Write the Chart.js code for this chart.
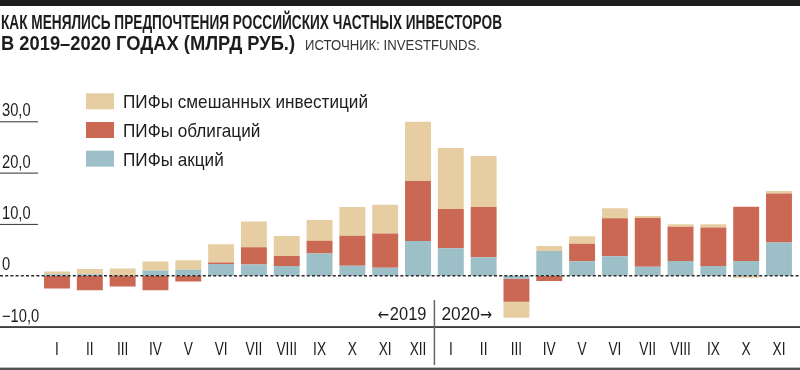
<!DOCTYPE html>
<html>
<head>
<meta charset="utf-8">
<script src="https://cdn.jsdelivr.net/npm/chart.js@4.4.1/dist/chart.umd.min.js"></script>
<style>
html,body{margin:0;padding:0;background:#fff;}
#wrap{position:relative;width:800px;height:370px;overflow:hidden;background:#fff;}
#topbar{position:absolute;left:0;top:0;width:800px;height:6px;background:#1d1d1b;}
.t{position:absolute;white-space:nowrap;transform-origin:0 0;font-family:'Liberation Sans',Arial,sans-serif;color:#1d1d1b;}
#t1{left:1px;top:12.4px;font-size:20px;line-height:20px;font-weight:bold;}
#t2{left:1px;top:33.1px;font-size:20px;line-height:20px;font-weight:bold;}
#src{left:305px;top:36.6px;font-size:15.5px;line-height:16px;font-weight:normal;color:#333;}
canvas{position:absolute;left:0;top:0;}
</style>
</head>
<body>
<div id="wrap">
  <canvas id="c" width="800" height="370"></canvas>
  <div id="topbar"></div>
  <div class="t" id="t1" data-w="501">КАК МЕНЯЛИСЬ ПРЕДПОЧТЕНИЯ РОССИЙСКИХ ЧАСТНЫХ ИНВЕСТОРОВ</div>
  <div class="t" id="t2" data-w="294">В 2019–2020 ГОДАХ (МЛРД РУБ.)</div>
  <div class="t" id="src" data-w="175">ИСТОЧНИК: INVESTFUNDS.</div>
</div>
<script>
// ---- data ----
const months2019 = ['I','II','III','IV','V','VI','VII','VIII','IX','X','XI','XII'];
const months2020 = ['I','II','III','IV','V','VI','VII','VIII','IX','X','XI'];
const categories = months2019.concat(months2020);
const seriesLabels = ['ПИФы акций', 'ПИФы облигаций', 'ПИФы смешанных инвестиций'];
const stockFunds = [0.3, 0.3, 0.1, 1.0, 1.15, 2.3, 2.2, 1.9, 4.35, 1.95, 1.55, 6.75,
                    5.35, 3.6, -0.6, 4.8, 2.8, 3.8, 1.75, 2.85, 1.9, 2.85, 6.45];
const bondFunds  = [-2.5, -2.85, -2.1, -2.85, -1.15, 0.25, 3.35, 1.95, 2.45, 5.85, 6.7, 11.7,
                    7.65, 9.8, -4.5, -1.05, 3.45, 7.4, 9.5, 6.7, 7.5, 10.6, 9.55];
const mixedFunds = [0.5, 1.0, 1.3, 1.75, 1.85, 3.6, 5.0, 3.9, 4.05, 5.6, 5.6, 11.55,
                    11.9, 9.95, -3.1, 1.0, 1.45, 1.95, 0.4, 0.5, 0.65, -0.4, 0.5];
const yTickValues = [-10, 0, 10, 20, 30];
const yTickLabels = ['−10,0', '0', '10,0', '20,0', '30,0'];
const yearLabels = ['←2019', '2020→'];
const colors = ['#9DBFC8', '#CB6854', '#E7CEA2'];

const FONT = "'Liberation Sans',Arial,sans-serif";
const ARROW_FONT = "'DejaVu Sans',sans-serif";

function drawScaled(ctx, text, x, y, s, align) {
  ctx.save();
  ctx.translate(x, y);
  ctx.scale(s, 1);
  ctx.textAlign = align || 'left';
  ctx.fillText(text, 0, 0);
  ctx.restore();
}
function fitText(ctx, text, x, y, targetW, align) {
  drawScaled(ctx, text, x, y, targetW / ctx.measureText(text).width, align);
}
// draws a year label whose arrow glyph uses a font with a full-size arrow
function drawYearLabel(ctx, text, x, y, targetW, alignRight) {
  const isArrow = ch => ch === '←' || ch === '→';
  const parts = [];
  let cur = '';
  for (const ch of text) {
    if (isArrow(ch)) { if (cur) parts.push({ t: cur, a: false }); cur = ''; parts.push({ t: ch, a: true }); }
    else cur += ch;
  }
  if (cur) parts.push({ t: cur, a: false });
  const fontFor = p => p.a ? '16px ' + ARROW_FONT : '19px ' + FONT;
  let total = 0;
  parts.forEach(p => { ctx.font = fontFor(p); p.w = ctx.measureText(p.t).width + (p.a ? 1 : 0); total += p.w; });
  const s = targetW / total;
  let px = alignRight ? x - targetW : x;
  parts.forEach(p => {
    ctx.font = fontFor(p);
    drawScaled(ctx, p.t, px, y - (p.a ? 0.5 : 0), s, 'left');
    px += p.w * s;
  });
}

const deco = {
  id: 'deco',
  beforeDatasetsDraw(chart) {
    const ctx = chart.ctx;
    const ys = chart.scales.y, xs = chart.scales.x;
    ctx.save();
    ctx.textBaseline = 'alphabetic';
    // y labels + short underlines
    ctx.font = '17.5px ' + FONT;
    yTickValues.forEach((v, i) => {
      const py = ys.getPixelForValue(v);
      ctx.fillStyle = '#1d1d1b';
      drawScaled(ctx, yTickLabels[i], 2, py - 5.5, 0.84, 'left');
      if (v > 0) {
        ctx.fillStyle = '#333';
        ctx.fillRect(0, py - 0.5, 38, 1);
      }
    });
    // x category labels, positioned by the x scale
    ctx.font = '18.5px ' + FONT;
    ctx.fillStyle = '#1d1d1b';
    chart.data.labels.forEach((lab, i) => {
      drawScaled(ctx, lab, xs.getPixelForValue(i), 354.5, 0.74, 'center');
    });
    // bottom axis line at -10
    const pMin = ys.getPixelForValue(-10);
    ctx.fillStyle = '#2b2b2b';
    ctx.fillRect(0, pMin - 0.8, 800, 1.7);
    // bottom frame line
    ctx.fillStyle = '#555';
    ctx.fillRect(0, 367.6, 800, 2.4);
    // year separator
    const sep = (xs.getPixelForValue(11) + xs.getPixelForValue(12)) / 2;
    ctx.fillStyle = '#666';
    ctx.fillRect(sep - 0.75, 300, 1.5, 65);
    ctx.fillStyle = '#1d1d1b';
    drawYearLabel(ctx, yearLabels[0], sep - 8, 320, 49, true);
    drawYearLabel(ctx, yearLabels[1], sep + 7, 320, 51.6, false);
    // legend
    ctx.font = '19px ' + FONT;
    const s = 245 / ctx.measureText(seriesLabels[2]).width;
    const order = [2, 1, 0];
    order.forEach((di, r) => {
      const cy = 101.3 + r * 28.7;
      ctx.fillStyle = chart.data.datasets[di].backgroundColor;
      ctx.fillRect(86, cy - 8, 28, 16);
      ctx.fillStyle = '#1d1d1b';
      drawScaled(ctx, chart.data.datasets[di].label, 123, cy + 6.8, s, 'left');
    });
    ctx.restore();
  },
  afterDatasetsDraw(chart) {
    const ctx = chart.ctx;
    const y0 = chart.scales.y.getPixelForValue(0);
    ctx.save();
    ctx.strokeStyle = '#2b2b2b';
    ctx.lineWidth = 1.5;
    ctx.setLineDash([3, 2.2]);
    ctx.beginPath();
    ctx.moveTo(0, y0);
    ctx.lineTo(800, y0);
    ctx.stroke();
    ctx.restore();
  }
};

function build() {
  new Chart(document.getElementById('c'), {
    type: 'bar',
    data: {
      labels: categories,
      datasets: [
        { label: seriesLabels[0], data: stockFunds, backgroundColor: colors[0] },
        { label: seriesLabels[1], data: bondFunds, backgroundColor: colors[1] },
        { label: seriesLabels[2], data: mixedFunds, backgroundColor: colors[2] }
      ]
    },
    options: {
      responsive: false,
      animation: false,
      devicePixelRatio: 1,
      layout: { padding: { top: 70.5, right: 4.6, left: 0, bottom: 0 } },
      datasets: { bar: { barPercentage: 0.79, categoryPercentage: 1, borderWidth: 0 } },
      plugins: { legend: { display: false }, tooltip: { enabled: false }, title: { display: false } },
      scales: {
        x: {
          stacked: true,
          grid: { display: false, drawTicks: false },
          border: { display: false },
          ticks: { display: false, autoSkip: false },
          afterFit: (sc) => { sc.height = 43; }
        },
        y: {
          stacked: true,
          min: -10, max: 40,
          grid: { display: false, drawTicks: false },
          border: { display: false },
          ticks: { display: false },
          afterFit: (sc) => { sc.width = 40.6; }
        }
      }
    },
    plugins: [deco]
  });
}
build();

function fitTitles() {
  document.querySelectorAll('.t').forEach(el => {
    el.style.transform = 'none';
    const w = el.getBoundingClientRect().width;
    const tw = parseFloat(el.dataset.w);
    el.style.transform = 'scaleX(' + (tw / w) + ')';
  });
}
fitTitles();
if (document.fonts && document.fonts.ready) document.fonts.ready.then(fitTitles);
</script>
</body>
</html>
